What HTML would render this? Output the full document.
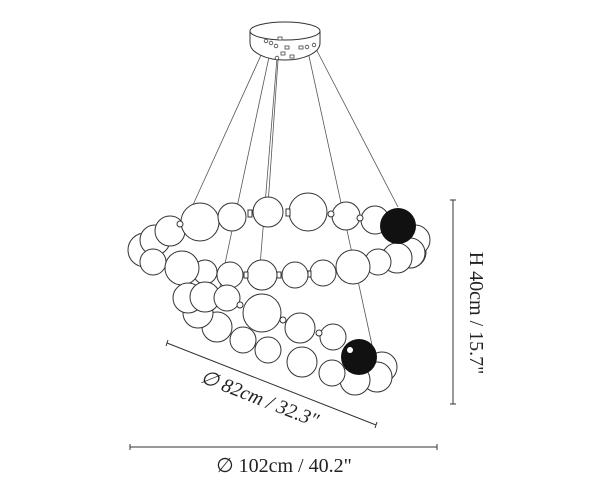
<!DOCTYPE html>
<html><head><style>
html,body{margin:0;padding:0;background:#fff;}
svg{display:block;}
text{font-family:"Liberation Serif",serif;fill:#222;}
</style></head><body>
<svg width="600" height="489" viewBox="0 0 600 489" xmlns="http://www.w3.org/2000/svg">
<g stroke="#555" stroke-width="0.8" fill="none">
<line x1="267" y1="42" x2="192" y2="207"/>
<line x1="272" y1="43" x2="220" y2="287"/>
<line x1="277" y1="58" x2="258" y2="290"/>
<line x1="278" y1="60" x2="268" y2="205"/>
<line x1="307" y1="47" x2="372" y2="345"/>
<line x1="314" y1="45" x2="398" y2="207"/>
</g>
<g stroke="#333" stroke-width="1" fill="#fff">
<path d="M250 31 L250 43 A35 17 0 0 0 320 43 L320 31"/>
<ellipse cx="285" cy="31" rx="35" ry="9"/>
</g>
<g stroke="#444" stroke-width="0.8" fill="#fff">
<circle cx="266" cy="41" r="1.8"/><circle cx="271" cy="43" r="1.8"/><circle cx="276" cy="46" r="1.8"/>
<rect x="278" y="37" width="4" height="3"/><rect x="285" y="46" width="4" height="3"/><rect x="281" y="52" width="4" height="3"/>
<rect x="290" y="55" width="4" height="3"/><rect x="299" y="46" width="4" height="3"/>
<circle cx="307" cy="47" r="1.8"/><circle cx="314" cy="45" r="1.8"/><circle cx="277" cy="58" r="1.8"/>
</g>
<g stroke="#333" stroke-width="1" fill="#fff">
<circle cx="145" cy="250" r="17"/><circle cx="155" cy="240" r="15"/><circle cx="170" cy="231" r="15"/>
<circle cx="410" cy="252" r="16"/><circle cx="415" cy="240" r="15"/>
<circle cx="153" cy="262" r="13"/>
<circle cx="410" cy="253" r="15"/><circle cx="397" cy="258" r="15"/><circle cx="378" cy="262" r="13"/>
<circle cx="353" cy="267" r="17"/><circle cx="323" cy="273" r="13"/><circle cx="295" cy="275" r="13"/>
<circle cx="262" cy="275" r="15"/><circle cx="230" cy="275" r="13"/><circle cx="205" cy="272" r="12"/><circle cx="182" cy="268" r="17"/>
<rect x="244" y="272" width="4" height="6"/><rect x="277" y="272" width="4" height="6"/><rect x="308" y="271" width="3" height="6"/>
<circle cx="200" cy="222" r="19"/><circle cx="232" cy="217" r="14"/><circle cx="268" cy="212" r="15"/>
<circle cx="308" cy="212" r="19"/><circle cx="346" cy="216" r="14"/><circle cx="375" cy="220" r="14"/>
<circle cx="180" cy="224" r="3"/><rect x="248" y="210" width="4" height="7"/><rect x="286" y="209" width="4" height="7"/>
<circle cx="331" cy="214" r="3"/><circle cx="360" cy="218" r="3"/>
<circle cx="382" cy="367" r="15"/><circle cx="377" cy="377" r="15"/><circle cx="355" cy="380" r="15"/>
<circle cx="332" cy="373" r="13"/><circle cx="302" cy="362" r="15"/><circle cx="268" cy="350" r="13"/>
<circle cx="243" cy="340" r="13"/><circle cx="217" cy="327" r="15"/><circle cx="198" cy="313" r="15"/>
<circle cx="188" cy="298" r="15"/><circle cx="205" cy="297" r="15"/><circle cx="227" cy="298" r="13"/>
<circle cx="333" cy="337" r="13"/><circle cx="300" cy="328" r="15"/><circle cx="262" cy="313" r="19"/>
<circle cx="240" cy="305" r="3"/><circle cx="319" cy="333" r="3"/><circle cx="283" cy="320" r="3"/>
</g>
<circle cx="398" cy="226" r="18" fill="#111"/>
<circle cx="359" cy="357" r="18" fill="#111"/>
<circle cx="350" cy="350" r="3" fill="#fff"/>
<g stroke="#333" stroke-width="1" fill="none">
<line x1="453" y1="200" x2="453" y2="404"/><line x1="450" y1="200" x2="456" y2="200"/><line x1="450" y1="404" x2="456" y2="404"/>
<line x1="130" y1="447" x2="437" y2="447"/><line x1="437" y1="444" x2="437" y2="450"/><line x1="130" y1="444" x2="130" y2="450"/>
<line x1="167" y1="343" x2="376" y2="425"/><line x1="166" y1="346" x2="168" y2="340"/><line x1="375" y1="428" x2="377" y2="422"/>
</g>
<text x="470" y="313" font-size="20" text-anchor="middle" transform="rotate(90 470 313)">H 40cm / 15.7"</text>
<text x="260" y="405" font-size="20" font-style="italic" text-anchor="middle" transform="rotate(21.4 260 398)">∅ 82cm / 32.3"</text>
<text x="284" y="472" font-size="20" text-anchor="middle">∅ 102cm / 40.2"</text>
</svg>
</body></html>
